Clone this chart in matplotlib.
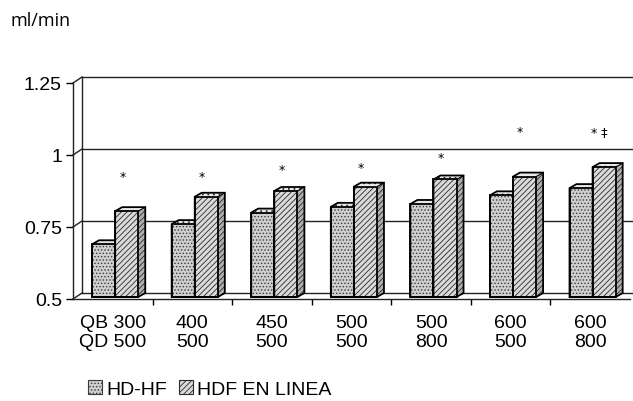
import matplotlib
matplotlib.use('Agg')
import matplotlib.pyplot as plt
from matplotlib.patches import Polygon, Patch
import numpy as np

# ---- data ----
categories = ['QB 300\nQD 500', '400\n500', '450\n500', '500\n500', '500\n800', '600\n500', '600\n800']
hd_hf = [0.69, 0.76, 0.80, 0.82, 0.83, 0.86, 0.885]
hdf_en_linea = [0.805, 0.855, 0.875, 0.89, 0.915, 0.925, 0.958]
sig_marks = ['*', '*', '*', '*', '*', '*', '* \u2021']
sig_levels = [0.927, 0.927, 0.951, 0.958, 0.99, 1.08, 1.08]
y_ticks = [0.5, 0.75, 1.0, 1.25]
y_tick_labels = ['0.5', '0.75', '1', '1.25']
series_names = ['HD-HF', 'HDF EN LINEA']
y_unit = 'ml/min'

plt.rcParams['font.family'] = ['Liberation Sans', 'DejaVu Sans']
plt.rcParams['hatch.linewidth'] = 0.6

W, H = 633, 402
fig = plt.figure(figsize=(W / 100, H / 100), dpi=100)
ax = fig.add_axes([73 / W, (H - 300) / H, 557 / W, 216 / H])
n = len(categories)
ax.set_xlim(0, n)
ax.set_ylim(0.5, 1.25)

px_x = n / 557.0
px_y = 0.75 / 216.0
DX, DY = 9 * px_x, 6 * px_y          # back-wall depth
bdx, bdy = 7 * px_x, 4 * px_y        # bar depth
bar_w = 0.29
offsets = [0.24, 0.53]
base = 0.5 + 2 * px_y

styles = [
    dict(face='#cfcfcf', top='#e6e6e6', side='#a8a8a8', hatch='.....', hc='#3a3a3a'),
    dict(face='#dadada', top='#ececec', side='#b0b0b0', hatch='//////', hc='#2a2a2a'),
]

# back wall & floor
ax.plot([DX, DX], [0.5 + DY, 1.25 + DY], color='#222', lw=1, clip_on=False, zorder=1)
for v in y_ticks:
    ax.plot([0, DX], [v, v + DY], color='#222', lw=1, clip_on=False, zorder=1)
    ax.plot([DX, n + 0.05], [v + DY, v + DY], color='#222', lw=1, clip_on=False, zorder=1)

x = np.arange(n)
for s, (vals, st) in enumerate(zip([hd_hf, hdf_en_linea], styles)):
    z = 3 + s
    lefts = x + offsets[s]
    vals = np.asarray(vals)
    for xl, v in zip(lefts, vals):
        side = Polygon([(xl + bar_w, base), (xl + bar_w + bdx, base + bdy),
                        (xl + bar_w + bdx, v + bdy), (xl + bar_w, v)],
                       closed=True, facecolor=st['side'], edgecolor=st['hc'],
                       hatch=st['hatch'], lw=0, zorder=z)
        top = Polygon([(xl, v), (xl + bar_w, v), (xl + bar_w + bdx, v + bdy), (xl + bdx, v + bdy)],
                      closed=True, facecolor=st['top'], edgecolor=st['hc'],
                      hatch='...', lw=0, zorder=z)
        ax.add_patch(side)
        ax.add_patch(top)
        outline = Polygon([(xl, base), (xl, v), (xl + bdx, v + bdy), (xl + bar_w + bdx, v + bdy),
                           (xl + bar_w + bdx, base + bdy), (xl + bar_w, base)],
                          closed=True, fill=False, edgecolor='black', lw=1.3, zorder=z + 0.5)
        ax.add_patch(outline)
        ax.plot([xl + bar_w, xl + bar_w + bdx], [v, v + bdy], color='black', lw=0.8, zorder=z + 0.5)
    ax.bar(lefts, vals - base, bottom=base, width=bar_w, align='edge',
           color=st['face'], edgecolor=st['hc'], hatch=st['hatch'], lw=0, zorder=z)
    ax.bar(lefts, vals - base, bottom=base, width=bar_w, align='edge',
           fill=False, edgecolor='black', lw=1.3, zorder=z + 0.5)

for i, (m, lv) in enumerate(zip(sig_marks, sig_levels)):
    ax.text(i + 0.62, lv, m, ha='center', va='center', fontsize=9, family='DejaVu Sans', zorder=6)

# axes / ticks
for sp in ['top', 'right']:
    ax.spines[sp].set_visible(False)
for sp in ['left', 'bottom']:
    ax.spines[sp].set_linewidth(1)
    ax.spines[sp].set_color('#222')
ax.set_yticks(y_ticks, y_tick_labels, fontsize=14)
ax.tick_params(axis='y', direction='out', length=5, width=1, pad=3)
ax.set_xticks(np.arange(1, n), [''] * (n - 1))
ax.tick_params(axis='x', which='major', direction='out', length=4, width=1)
ax.set_xticks(x + 0.5, categories, minor=True, fontsize=14, linespacing=1.15)
ax.tick_params(axis='x', which='minor', length=0, pad=11)

fig.text(10 / W, 1 - 21 / H, y_unit, fontsize=13, family=['Open Sans', 'DejaVu Sans'],
         ha='left', va='center')

handles = [Patch(facecolor=st['face'], edgecolor=st['hc'], hatch=st['hatch'], lw=0.8) for st in styles]
fig.legend(handles, series_names, loc='center left', bbox_to_anchor=(88 / W, 1 - 390 / H),
           frameon=False, ncol=2, handlelength=0.7, handleheight=0.7, handletextpad=0.25,
           columnspacing=0.6, fontsize=14, borderpad=0, borderaxespad=0)

fig.savefig('out.png', dpi=100)
